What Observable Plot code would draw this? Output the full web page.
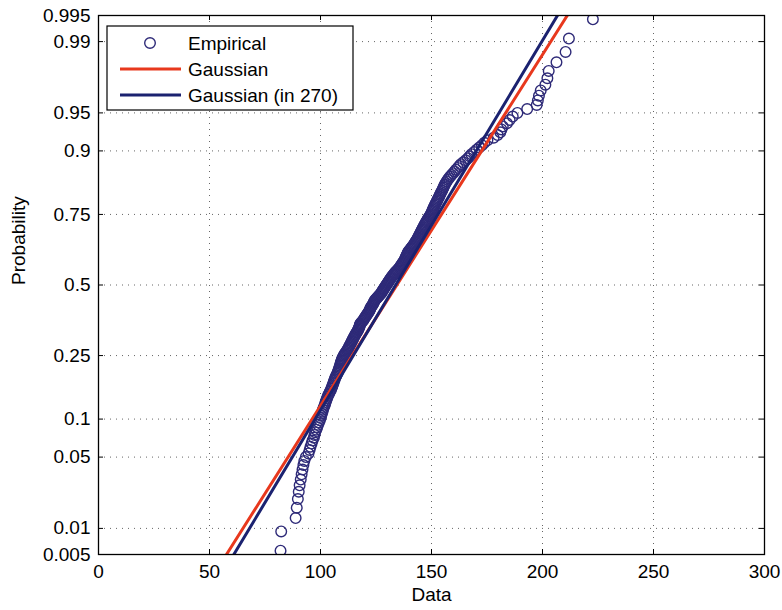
<!DOCTYPE html>
<html><head><meta charset="utf-8">
<script src="https://cdn.jsdelivr.net/npm/d3@7"></script>
<script src="https://cdn.jsdelivr.net/npm/@observablehq/plot@0.6"></script>
<style>
body{margin:0;background:#fff;}
#chart{position:relative;width:782px;height:610px;}
</style></head><body><div id="chart"></div>
<script>
// Sorted sample (270 values)
const empirical = [
  80.5, 82, 82.3, 88.8, 89.3, 89.8, 90.2, 90.6, 91.1, 91.5,
  91.9, 92.3, 92.7, 93.4, 94.6, 95.1, 95.5, 96, 96.4, 97,
  97.3, 97.6, 98.1, 98.5, 98.9, 99.3, 99.7, 100.1, 100.3, 100.6,
  100.9, 101.1, 101.4, 101.8, 102.1, 102.3, 102.6, 102.9, 103.2, 103.5,
  103.9, 104.2, 104.6, 104.9, 105.2, 105.4, 105.7, 105.9, 106.1, 106.4,
  106.6, 106.9, 107.2, 107.5, 107.8, 108, 108.2, 108.4, 108.6, 108.8,
  109, 109.1, 109.3, 109.5, 109.7, 109.9, 110.2, 110.5, 110.8, 111.1,
  111.5, 111.9, 112.2, 112.5, 112.8, 113, 113.3, 113.6, 113.8, 114.1,
  114.3, 114.6, 114.8, 115.1, 115.4, 115.6, 115.9, 116.2, 116.5, 116.8,
  117, 117.2, 117.4, 117.6, 117.7, 117.8, 118.1, 118.5, 118.9, 119.3,
  119.6, 119.9, 120.2, 120.5, 120.8, 121.1, 121.4, 121.7, 122, 122.2,
  122.4, 122.5, 122.8, 123.1, 123.4, 123.7, 123.9, 124.1, 124.3, 124.6,
  124.9, 125.3, 125.7, 126.1, 126.5, 126.9, 127.3, 127.6, 127.8, 128.1,
  128.4, 128.6, 128.9, 129.2, 129.5, 129.8, 130.1, 130.4, 130.7, 130.9,
  131.2, 131.5, 131.8, 132.1, 132.5, 132.8, 133.2, 133.5, 133.9, 134.3,
  134.7, 135.1, 135.5, 135.8, 136.1, 136.4, 136.7, 137, 137.3, 137.6,
  137.9, 138.1, 138.3, 138.5, 138.7, 138.9, 139.1, 139.3, 139.5, 139.8,
  140.2, 140.6, 141, 141.3, 141.7, 142, 142.3, 142.6, 142.9, 143.2,
  143.5, 143.8, 144, 144.3, 144.5, 144.8, 145, 145.3, 145.5, 145.8,
  146, 146.3, 146.6, 146.8, 147.1, 147.4, 147.7, 148, 148.3, 148.6,
  149, 149.3, 149.6, 149.9, 150.2, 150.4, 150.6, 150.9, 151.1, 151.4,
  151.7, 152, 152.3, 152.6, 152.9, 153.2, 153.5, 153.8, 154.1, 154.4,
  154.8, 155.1, 155.4, 155.7, 156, 156.4, 156.8, 157.3, 157.8, 158.4,
  159, 159.7, 160.4, 161, 161.8, 162.5, 163.2, 164.3, 165.4, 166.4,
  167.2, 168, 169.2, 170.3, 171.5, 172.7, 173.8, 175.2, 178, 179.8,
  181, 181.5, 182.1, 184, 185.2, 186.6, 188.7, 193.1, 197.4, 197.9,
  198.4, 199.2, 201.3, 202.2, 202.8, 206.3, 210.4, 211.9, 222.7, 226
];
const probTicks  = [0.005, 0.01, 0.05, 0.1, 0.25, 0.5, 0.75, 0.9, 0.95, 0.99, 0.995];
const probLabels = ["0.005", "0.01", "0.05", "0.1", "0.25", "0.5", "0.75", "0.9", "0.95", "0.99", "0.995"];
const xTicks = [0, 50, 100, 150, 200, 250, 300];
const fitNames  = ["Gaussian", "Gaussian (in 270)"];
const fitMu     = [134.4, 133.85];
const fitSigma  = [29.8, 28.3];
const fitColors = ["#e8381d", "#1b2270"];
const empiricalLabel = "Empirical";
const empiricalColor = "#2e2a78";

// inverse standard normal CDF (Acklam) for the probability axis
function probit(p){
  const a=[-3.969683028665376e+01,2.209460984245205e+02,-2.759285104469687e+02,1.383577518672690e+02,-3.066479806614716e+01,2.506628277459239e+00];
  const b=[-5.447609879822406e+01,1.615858368580409e+02,-1.556989798598866e+02,6.680131188771972e+01,-1.328068155288572e+01];
  const c=[-7.784894002430293e-03,-3.223964580411365e-01,-2.400758277161838e+00,-2.549732539343734e+00,4.374664141464968e+00,2.938163982698783e+00];
  const d=[7.784695709041462e-03,3.224671290700398e-01,2.445134137142996e+00,3.754408661907416e+00];
  const pl=0.02425, ph=1-pl;
  let q, r;
  if (p < pl) { q=Math.sqrt(-2*Math.log(p)); return (((((c[0]*q+c[1])*q+c[2])*q+c[3])*q+c[4])*q+c[5])/((((d[0]*q+d[1])*q+d[2])*q+d[3])*q+1); }
  if (p > ph) { q=Math.sqrt(-2*Math.log(1-p)); return -(((((c[0]*q+c[1])*q+c[2])*q+c[3])*q+c[4])*q+c[5])/((((d[0]*q+d[1])*q+d[2])*q+d[3])*q+1); }
  q=p-0.5; r=q*q;
  return (((((a[0]*r+a[1])*r+a[2])*r+a[3])*r+a[4])*r+a[5])*q/(((((b[0]*r+b[1])*r+b[2])*r+b[3])*r+b[4])*r+1);
}

const n = empirical.length;
const pts = empirical.map((x, i) => ({x, z: probit((i + 0.5) / n)}));
const zTicks = probTicks.map(probit);
const zLo = zTicks[0], zHi = zTicks[zTicks.length - 1];
const fmtZ = z => { let k = 0; zTicks.forEach((t, i) => { if (Math.abs(t - z) < Math.abs(zTicks[k] - z)) k = i; }); return probLabels[k]; };
const fitLines = fitNames.flatMap((name, k) => [zLo, zHi].map(z => ({name, x: fitMu[k] + fitSigma[k] * z, z})));

const W = 782, H = 610, mL = 98, mR = 18, mT = 15, mB = 56;
const fw = W - mL - mR, fh = H - mT - mB, tk = 5;
const font = "'Liberation Sans', Arial, Helvetica, sans-serif";

const svg = Plot.plot({
  width: W, height: H,
  marginLeft: mL, marginRight: mR, marginTop: mT, marginBottom: mB,
  style: {fontFamily: font, fontSize: "19px", background: "white", color: "black", overflow: "visible"},
  x: {domain: [0, 300], ticks: xTicks, tickSize: 0, tickPadding: 10, label: null},
  y: {domain: [zLo, zHi], ticks: zTicks, tickFormat: fmtZ, tickSize: 0, tickPadding: 8, label: null},
  color: {domain: fitNames, range: fitColors},
  marks: [
    Plot.ruleX(xTicks.slice(1, -1), {x: d => d, stroke: "#666", strokeWidth: 1, strokeDasharray: "1,5"}),
    Plot.ruleY(zTicks.slice(1, -1), {y: d => d, stroke: "#666", strokeWidth: 1, strokeDasharray: "1,5"}),
    Plot.dot(pts, {x: "x", y: "z", r: 5.3, stroke: empiricalColor, strokeWidth: 1.4, fill: "none", clip: true}),
    Plot.line(fitLines, {x: "x", y: "z", z: "name", stroke: "name", strokeWidth: 3, clip: true}),
    Plot.ruleX(xTicks, {x: d => d, insetTop: fh - tk, stroke: "black"}),
    Plot.ruleX(xTicks, {x: d => d, insetBottom: fh - tk, stroke: "black"}),
    Plot.ruleY(zTicks, {y: d => d, insetRight: fw - tk, stroke: "black"}),
    Plot.ruleY(zTicks, {y: d => d, insetLeft: fw - tk, stroke: "black"}),
    Plot.frame({stroke: "black", strokeWidth: 1.3}),
    Plot.text(["Data"], {frameAnchor: "bottom", dy: 46, fontSize: 19, fill: "black"}),
    Plot.text(["Probability"], {frameAnchor: "left", rotate: -90, dx: -80, dy: 0, fontSize: 19, fill: "black"})
  ]
});

// legend box (MATLAB style, inside upper-left)
const g = d3.select(svg).append("g").attr("font-family", font).attr("font-size", 19).attr("text-anchor", "start");
const lx = 107, ly = 26, lw = 246, lh = 84, row = 26;
g.append("rect").attr("x", lx).attr("y", ly).attr("width", lw).attr("height", lh)
  .attr("fill", "white").attr("stroke", "black").attr("stroke-width", 1.2);
const legendItems = [{label: empiricalLabel, kind: "dot", color: empiricalColor}]
  .concat(fitNames.map((nm, k) => ({label: nm, kind: "line", color: fitColors[k]})));
legendItems.forEach((it, i) => {
  const cy = ly + 17 + i * row;
  if (it.kind === "dot") {
    g.append("circle").attr("cx", lx + 43).attr("cy", cy).attr("r", 5.3)
      .attr("fill", "none").attr("stroke", it.color).attr("stroke-width", 1.4);
  } else {
    g.append("line").attr("x1", lx + 13).attr("x2", lx + 74).attr("y1", cy).attr("y2", cy)
      .attr("stroke", it.color).attr("stroke-width", 3);
  }
  g.append("text").attr("x", lx + 81).attr("y", cy).attr("dy", "0.35em")
    .attr("text-anchor", "start").attr("fill", "black").text(it.label);
});

document.getElementById("chart").appendChild(svg);
</script></body></html>
